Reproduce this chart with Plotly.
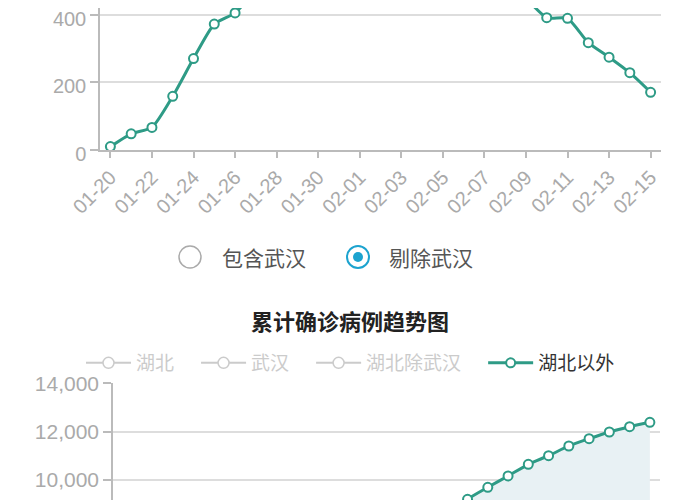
import plotly.graph_objects as go

# 日期 (x轴)
dates = ["01-20", "01-21", "01-22", "01-23", "01-24", "01-25", "01-26",
         "01-27", "01-28", "01-29", "01-30", "01-31", "02-01", "02-02",
         "02-03", "02-04", "02-05", "02-06", "02-07", "02-08", "02-09",
         "02-10", "02-11", "02-12", "02-13", "02-14", "02-15"]

# 新增确诊 (剔除武汉) - 上图
daily_new = [10, 48, 67, 159, 271, 373, 406, 480, 630, 715, 770, 765, 680, 735,
             900, 740, 715, 705, 565, 515, 450, 392, 390, 318, 275, 229, 171]

# 累计确诊 - 下图
cum_hubei = [270, 375, 444, 549, 729, 1052, 1423, 2714, 3554, 4586, 5806, 7153,
             9074, 11177, 13522, 16678, 19665, 22112, 24953, 27100, 29631,
             31728, 33366, 48206, 51986, 54406, 56249]
cum_wuhan = [258, 363, 425, 495, 572, 618, 698, 1590, 1905, 2261, 2639, 3215,
             4109, 5142, 6384, 8351, 10117, 11618, 13603, 14982, 16902, 18454,
             19558, 32994, 35991, 37914, 39462]
cum_hubei_ex_wuhan = [12, 12, 19, 54, 157, 434, 725, 1124, 1649, 2325, 3167,
                      3938, 4965, 6035, 7138, 8327, 9548, 10494, 11350, 12118,
                      12729, 13274, 13808, 15212, 15995, 16492, 16787]
cum_outside = [21, 65, 127, 281, 558, 923, 1321, 1801, 2420, 3125, 3886, 4638,
               5306, 6028, 6916, 7646, 8400, 9197, 9694, 10162, 10646, 11002,
               11404, 11706, 11983, 12203, 12385]

top_ticks = [0, 200, 400]
bottom_ticks = [10000, 12000, 14000]

W, H = 700, 500
OFF = 8  # 页面 body 默认外边距
TEAL = "#2e9b86"
GREY_TXT = "#aaaaaa"
AXIS = "#bbbbbb"
GRID = "#dddddd"
BLUE = "#1ca3cf"
NUM_FONT = "Liberation Sans, Noto Sans CJK SC"
CJK_FONT = "Noto Sans CJK SC"
PAD = "\u00a0" * 4


def px(x):
    return (x - OFF) / W


def py(y):
    return 1 - (y - OFF) / H


fig = go.Figure()

# 上图: 每日新增
fig.add_trace(go.Scatter(
    x=dates, y=daily_new, mode="lines+markers", name="湖北以外",
    line=dict(color=TEAL, width=3, shape="spline", smoothing=0.6),
    marker=dict(size=9, color="white", line=dict(color=TEAL, width=2)),
    showlegend=False, xaxis="x", yaxis="y",
))

# 下图: 累计确诊
for name, vals in [("湖北", cum_hubei), ("武汉", cum_wuhan),
                   ("湖北除武汉", cum_hubei_ex_wuhan)]:
    fig.add_trace(go.Scatter(
        x=dates, y=vals, mode="lines+markers",
        name="<span style='color:#999'>%s</span>%s" % (name, PAD),
        line=dict(color="#999999", width=2),
        marker=dict(size=11, color="white", line=dict(color="#999999", width=1.5)),
        visible="legendonly", xaxis="x2", yaxis="y2",
    ))

# 面积填充 (不进图例)
fig.add_trace(go.Scatter(
    x=dates, y=cum_outside, mode="none", fill="tozeroy",
    fillcolor="#e8f1f4", line=dict(shape="spline", smoothing=0.6),
    showlegend=False, hoverinfo="skip", xaxis="x2", yaxis="y2",
))

fig.add_trace(go.Scatter(
    x=dates, y=cum_outside, mode="lines+markers", name="湖北以外" + PAD,
    line=dict(color=TEAL, width=3, shape="spline", smoothing=0.6),
    marker=dict(size=9, color="white", line=dict(color=TEAL, width=2)),
    xaxis="x2", yaxis="y2",
))

axis_common = dict(showline=True, linecolor=AXIS, linewidth=1.5,
                   ticks="outside", tickcolor=AXIS, tickwidth=1.5,
                   zeroline=False, automargin=False)

fig.update_layout(
    width=W, height=H,
    margin=dict(l=0, r=0, t=0, b=0, autoexpand=False),
    paper_bgcolor="white", plot_bgcolor="white",
    font=dict(family=NUM_FONT, color="#333333"),
    xaxis=dict(domain=[px(100), px(661)], anchor="y", type="category",
               range=[-0.5, 26.5], tickvals=dates[::2], tickangle=-45,
               ticklen=6, showgrid=False,
               tickfont=dict(size=20, color=GREY_TXT), **axis_common),
    yaxis=dict(domain=[py(150), 1], anchor="x", range=[0, 420.7],
               tickvals=top_ticks, ticklen=8, showgrid=True, gridcolor=GRID,
               gridwidth=1.5, tickfont=dict(size=20, color=GREY_TXT),
               ticklabeloverflow="allow", ticklabelshift=4, **axis_common),
    xaxis2=dict(domain=[px(113), px(660)], anchor="y2", type="category",
                range=[-0.5, 26.5], showticklabels=False, showline=False,
                ticks="", showgrid=False, zeroline=False, automargin=False),
    yaxis2=dict(domain=[0, py(383.3)], anchor="x2", range=[8836, 14000.5],
                tickvals=bottom_ticks, tickformat=",", ticklen=8,
                showgrid=True, gridcolor=GRID, gridwidth=1.5,
                tickfont=dict(size=21, color=GREY_TXT),
                ticklabeloverflow="allow", **axis_common),
    legend=dict(orientation="h", x=px(359), xanchor="center", y=py(363),
                yanchor="middle", font=dict(family=CJK_FONT, size=19,
                                            color="#333333"),
                bgcolor="rgba(0,0,0,0)", itemwidth=45),
    showlegend=True,
)

# 单选按钮
shapes = [
    dict(type="circle", xref="paper", yref="paper",
         x0=px(179), x1=px(201), y0=py(268), y1=py(246),
         line=dict(color="#aaaaaa", width=1.5), fillcolor="white"),
    dict(type="circle", xref="paper", yref="paper",
         x0=px(347), x1=px(369), y0=py(268), y1=py(246),
         line=dict(color=BLUE, width=2), fillcolor="white"),
    dict(type="circle", xref="paper", yref="paper",
         x0=px(353), x1=px(363), y0=py(262), y1=py(252),
         line=dict(color=BLUE, width=0), fillcolor=BLUE),
    # 卡片右边框
    dict(type="line", xref="paper", yref="paper", x0=px(697), x1=px(697),
         y0=0, y1=1, line=dict(color="#d0d0d0", width=2)),
]

annotations = [
    dict(text="包含武汉", x=px(263.5), y=py(257), xref="paper", yref="paper",
         showarrow=False, font=dict(family=CJK_FONT, size=21, color="#555555")),
    dict(text="剔除武汉", x=px(431), y=py(257), xref="paper", yref="paper",
         showarrow=False, font=dict(family=CJK_FONT, size=21, color="#555555")),
    dict(text="<b>累计确诊病例趋势图</b>", x=px(350), y=py(320),
         xref="paper", yref="paper", showarrow=False,
         font=dict(family=CJK_FONT, size=22, color="#222222")),
]

fig.update_layout(shapes=shapes, annotations=annotations)

fig.write_html("out.html")
